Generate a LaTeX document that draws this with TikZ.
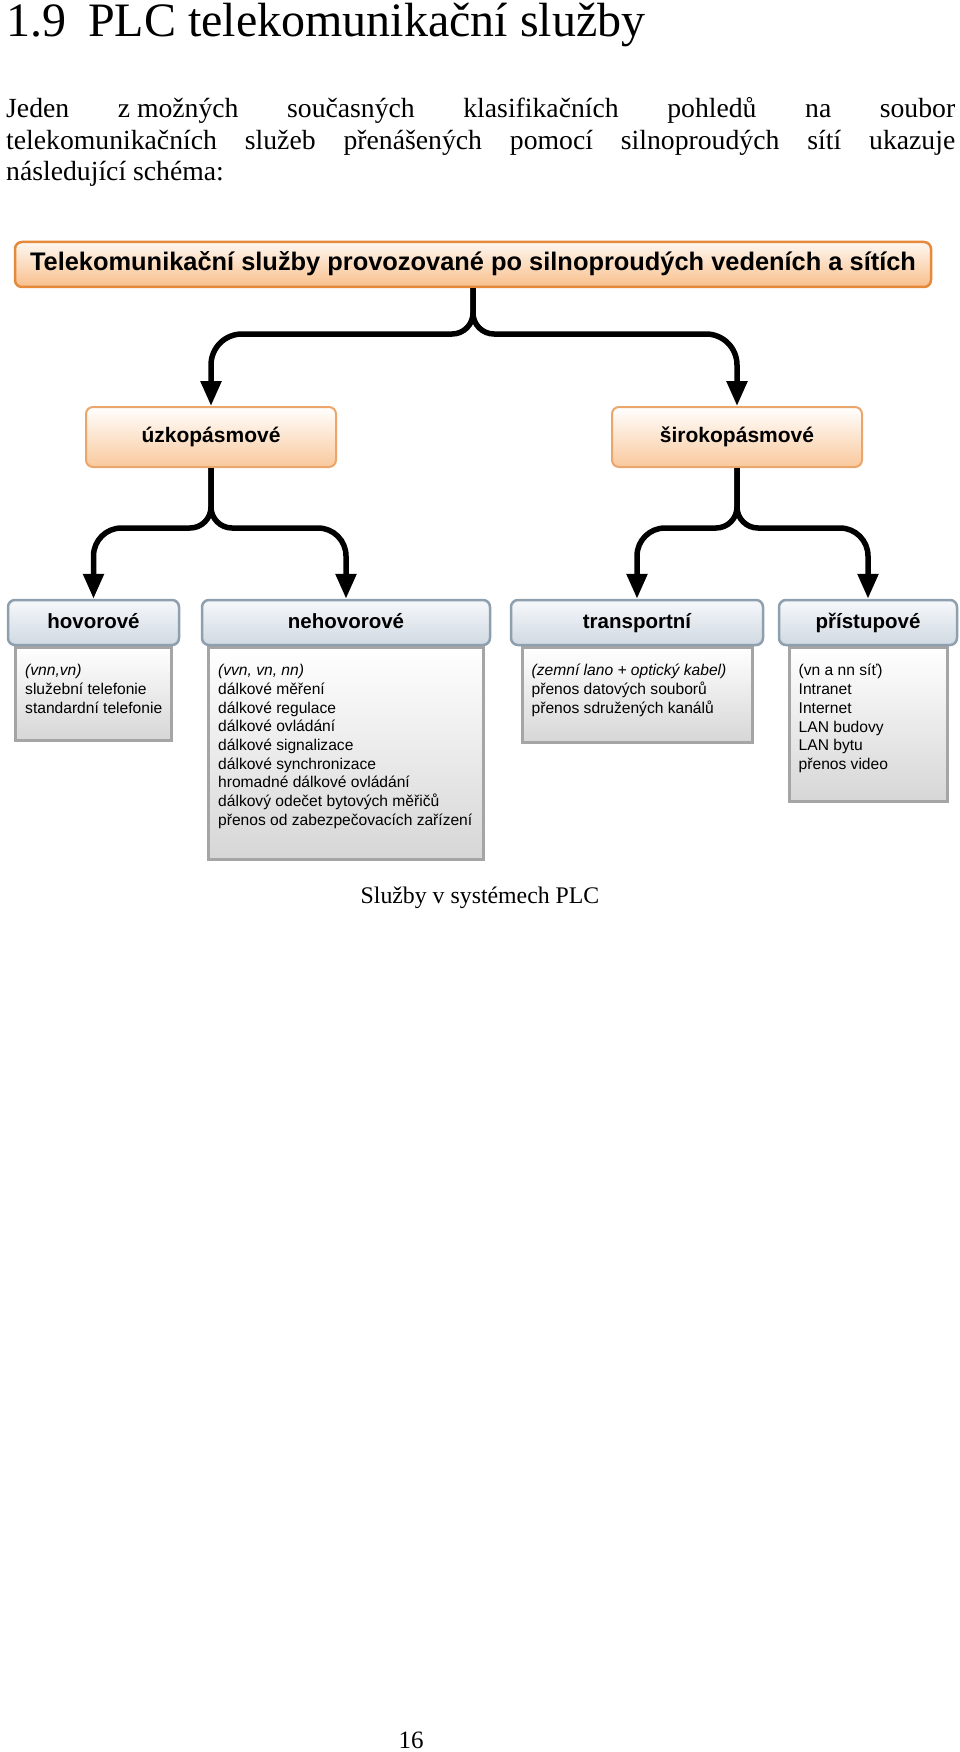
\documentclass[tikz,border=0pt]{standalone}
\usepackage{fontspec}
\setmainfont{Liberation Serif}
\setsansfont{Liberation Sans}
\usepackage{tikz}
\usetikzlibrary{arrows.meta,backgrounds}
\definecolor{plcorange}{HTML}{E5893B}
\definecolor{plcpeach}{HTML}{F8BF8B}
\definecolor{plcsteel}{HTML}{8E9FAE}
\definecolor{plcbluetop}{HTML}{F6F8FB}
\definecolor{plcblue}{HTML}{D0D9E2}
\definecolor{plcgray}{HTML}{A5A5A5}
\definecolor{plclist}{HTML}{D6D6D6}

\begin{document}
\begin{tikzpicture}[x=1pt,y=-1pt,
  pagetext/.style={inner sep=0pt,font=\fontsize{27.7}{32}\selectfont},
  conn/.style={line width=5.5pt,-{Triangle[width=20pt,length=25pt]}},
  mainbox/.style={draw=plcorange,line width=2.5pt,rounded corners=7pt,top color=plcpeach!12,bottom color=plcpeach,inner sep=0pt,
    text height=18pt,text depth=5pt,font=\sffamily\bfseries\fontsize{25.4}{28}\selectfont},
  bandbox/.style={draw=plcorange!75,line width=2pt,rounded corners=7pt,top color=white,bottom color=plcpeach!85,inner sep=0pt,
    minimum width=250pt,minimum height=60pt,text height=15pt,text depth=4pt,font=\sffamily\bfseries\fontsize{21}{24}\selectfont},
  headbox/.style={draw=plcsteel,line width=2.5pt,rounded corners=7pt,top color=plcbluetop,bottom color=plcblue,inner sep=0pt,
    minimum height=45pt,text height=15pt,text depth=4pt,font=\sffamily\bfseries\fontsize{20.5}{24}\selectfont},
  listbox/.style={draw=plcgray,line width=3pt,top color=white,bottom color=plclist,inner sep=0pt,anchor=north},
  listtext/.style={anchor=north west,align=left,inner sep=0pt,font=\sffamily\fontsize{15.6}{18.7}\selectfont}]

\useasboundingbox (0,0) rectangle (960,1752);

\node[pagetext,anchor=base west,font=\fontsize{48}{50}\selectfont] (title) at (6,37) {1.9\hspace{22pt}PLC telekomunikační služby};
\node[pagetext,anchor=base west] (line1) at (6,118) {\makebox[949pt][s]{Jeden \mbox{z možných} současných klasifikačních pohledů na soubor}};
\node[pagetext,anchor=base west] (line2) at (6,150) {\makebox[949pt][s]{telekomunikačních služeb přenášených pomocí silnoproudých sítí ukazuje}};
\node[pagetext,anchor=base west] (line3) at (6,181) {následující schéma:};

\node[mainbox,minimum width=916pt,minimum height=45pt] (main) at (473,264.5) {Telekomunikační služby provozované po silnoproudých vedeních a sítích};
\node[bandbox] (uzk) at (211,437) {úzkopásmové};
\node[bandbox] (sir) at (737,437) {širokopásmové};

\node[headbox,minimum width=171pt] (hov) at (93.5,622.5) {hovorové};
\node[headbox,minimum width=288pt] (neh) at (346,622.5) {nehovorové};
\node[headbox,minimum width=252pt] (tra) at (637,622.5) {transportní};
\node[headbox,minimum width=178pt] (pri) at (868,622.5) {přístupové};

\begin{scope}[on background layer]
\fill[white] (0,0) rectangle (960,1752);
\node[listbox,minimum width=156pt,minimum height=93pt] (hovL) at (hov.south) {};
\node[listbox,minimum width=275pt,minimum height=212pt] (nehL) at (neh.south) {};
\node[listbox,minimum width=230pt,minimum height=95pt] (traL) at (tra.south) {};
\node[listbox,minimum width=158pt,minimum height=154pt] (priL) at (pri.south) {};
\end{scope}

\node[listtext] (hovT) at ([xshift=11pt,yshift=-18pt]hovL.north west) {\textit{(vnn,vn)}\\služební telefonie\\standardní telefonie};
\node[listtext] (nehT) at ([xshift=11pt,yshift=-18pt]nehL.north west) {\textit{(vvn, vn, nn)}\\dálkové měření\\dálkové regulace\\dálkové ovládání\\dálkové signalizace\\dálkové synchronizace\\hromadné dálkové ovládání\\dálkový odečet bytových měřičů\\přenos od zabezpečovacích zařízení};
\node[listtext] (traT) at ([xshift=11pt,yshift=-18pt]traL.north west) {\textit{(zemní lano + optický kabel)}\\přenos datových souborů\\přenos sdružených kanálů};
\node[listtext] (priT) at ([xshift=11pt,yshift=-18pt]priL.north west) {(vn a nn síť)\\Intranet\\Internet\\LAN budovy\\LAN bytu\\přenos video};

\coordinate (j1l) at (340,334);
\coordinate (j1r) at (605,334);
\coordinate (j2l) at (150,528);
\coordinate (j2r) at (280,528);
\coordinate (j3l) at (690,528);
\coordinate (j3r) at (800,528);
\draw[conn,rounded corners=21pt] (main.south) |- (j1l) [rounded corners=31pt] -| (uzk.north);
\draw[conn,rounded corners=21pt] (main.south) |- (j1r) [rounded corners=31pt] -| (sir.north);
\draw[conn,rounded corners=21pt] (uzk.south) |- (j2l) [rounded corners=28pt] -| (hov.north);
\draw[conn,rounded corners=21pt] (uzk.south) |- (j2r) [rounded corners=28pt] -| (neh.north);
\draw[conn,rounded corners=21pt] (sir.south) |- (j3l) [rounded corners=28pt] -| (tra.north);
\draw[conn,rounded corners=21pt] (sir.south) |- (j3r) [rounded corners=28pt] -| (pri.north);

\node[anchor=base,inner sep=0pt,font=\fontsize{23.8}{26}\selectfont] (caption) at (480,903) {Služby v systémech PLC};
\node[anchor=base,inner sep=0pt,font=\fontsize{25}{28}\selectfont] (pagenum) at (411,1748) {16};
\end{tikzpicture}
\end{document}
